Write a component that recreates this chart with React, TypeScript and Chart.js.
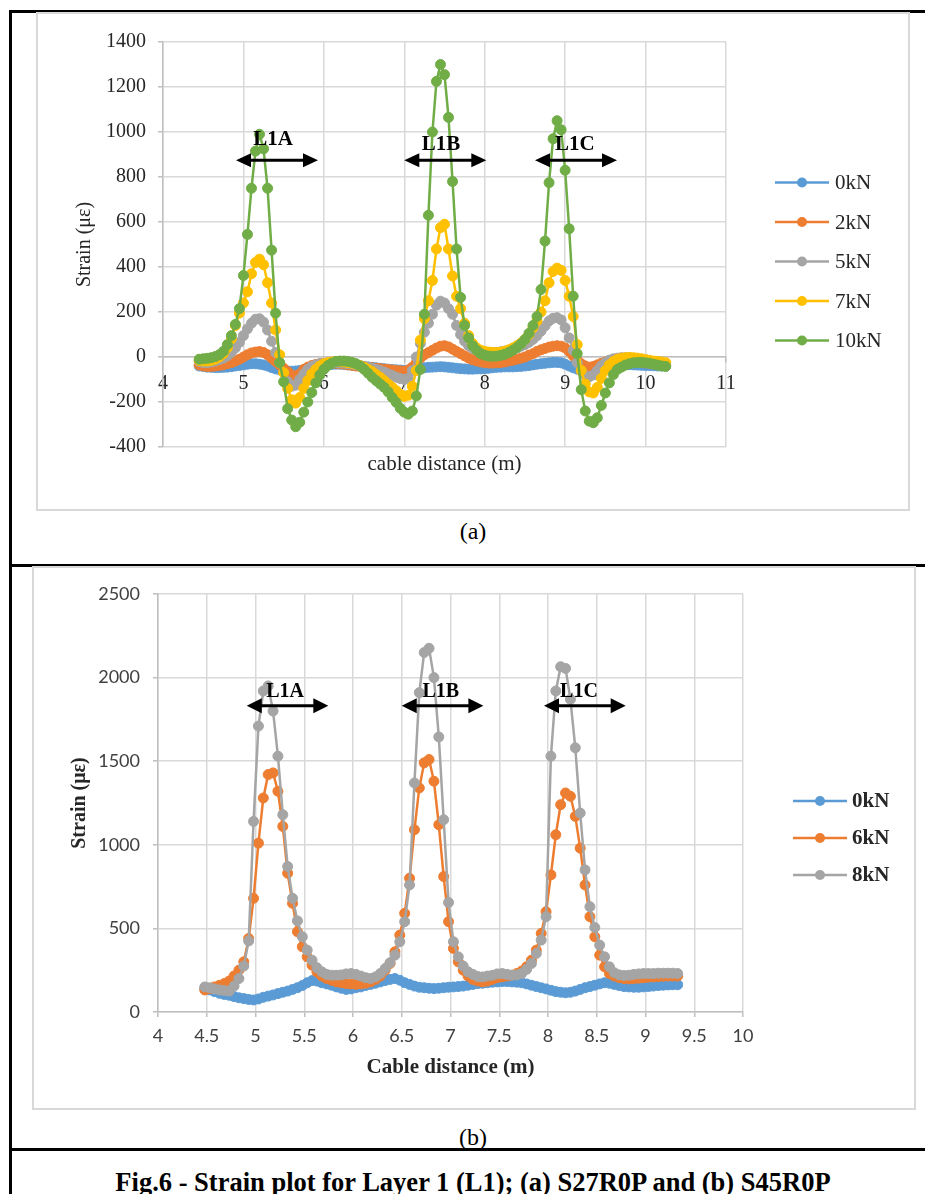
import React, { useEffect, useRef } from 'react';
import { Chart, registerables } from 'chart.js';

Chart.register(...registerables);

// ---------------- Panel (a): S27R0P ----------------
const X_A = [
  4.45, 4.5, 4.55, 4.6, 4.65, 4.7, 4.75, 4.8, 4.85, 4.9,
  4.95, 5, 5.05, 5.1, 5.15, 5.2, 5.25, 5.3, 5.35, 5.4,
  5.45, 5.5, 5.55, 5.6, 5.65, 5.7, 5.75, 5.8, 5.85, 5.9,
  5.95, 6, 6.05, 6.1, 6.15, 6.2, 6.25, 6.3, 6.35, 6.4,
  6.45, 6.5, 6.55, 6.6, 6.65, 6.7, 6.75, 6.8, 6.85, 6.9,
  6.95, 7, 7.05, 7.1, 7.15, 7.2, 7.25, 7.3, 7.35, 7.4,
  7.45, 7.5, 7.55, 7.6, 7.65, 7.7, 7.75, 7.8, 7.85, 7.9,
  7.95, 8, 8.05, 8.1, 8.15, 8.2, 8.25, 8.3, 8.35, 8.4,
  8.45, 8.5, 8.55, 8.6, 8.65, 8.7, 8.75, 8.8, 8.85, 8.9,
  8.95, 9, 9.05, 9.1, 9.15, 9.2, 9.25, 9.3, 9.35, 9.4,
  9.45, 9.5, 9.55, 9.6, 9.65, 9.7, 9.75, 9.8, 9.85, 9.9,
  9.95, 10, 10.05, 10.1, 10.15, 10.2, 10.25,
];

const A_0KN = [
  -40, -42, -45, -46, -47, -47, -46, -45, -43, -40,
  -38, -35, -32, -30, -30, -32, -35, -40, -47, -53,
  -57, -60, -62, -63, -62, -60, -57, -53, -50, -46,
  -42, -38, -35, -33, -32, -32, -33, -35, -37, -38,
  -40, -42, -44, -46, -48, -50, -52, -54, -56, -57,
  -58, -60, -58, -55, -52, -50, -48, -46, -45, -44,
  -43, -44, -46, -48, -50, -52, -53, -54, -54, -53,
  -53, -52, -50, -48, -46, -45, -44, -44, -44, -43,
  -42, -40, -38, -35, -32, -30, -28, -26, -24, -24,
  -26, -32, -40, -48, -54, -56, -55, -52, -48, -44,
  -40, -37, -35, -34, -33, -33, -33, -34, -35, -36,
  -37, -38, -38, -39, -40, -40, -40,
];

const A_2KN = [
  -35, -40, -42, -42, -40, -38, -35, -30, -25, -18,
  -10, 0, 10, 18, 22, 24, 20, 10, -5, -20,
  -35, -50, -65, -80, -85, -75, -55, -45, -38, -33,
  -30, -28, -27, -27, -28, -30, -32, -35, -37, -40,
  -42, -44, -46, -48, -50, -52, -54, -56, -58, -60,
  -62, -63, -58, -45, -25, -5, 10, 20, 30, 40,
  48, 50, 45, 35, 25, 15, 5, -5, -12, -18,
  -22, -25, -27, -27, -26, -25, -22, -18, -14, -10,
  -5, 0, 8, 15, 25, 32, 38, 44, 48, 50,
  48, 40, 25, 5, -15, -30, -40, -45, -42, -35,
  -28, -22, -18, -16, -15, -15, -16, -18, -20, -22,
  -24, -26, -28, -30, -32, -34, -35,
];

const A_5KN = [
  -20, -25, -25, -22, -18, -12, -5, 5, 20, 40,
  65, 95, 125, 150, 168, 170, 155, 120, 70, 20,
  -25, -70, -110, -130, -125, -100, -75, -55, -42, -35,
  -30, -28, -26, -25, -25, -26, -28, -30, -32, -35,
  -38, -42, -46, -50, -55, -60, -67, -75, -82, -90,
  -96, -100, -95, -60, 0, 60, 110, 150, 190, 230,
  248, 240, 215, 190, 140, 100, 70, 50, 38, 30,
  25, 22, 20, 20, 21, 23, 26, 30, 35, 40,
  48, 55, 65, 78, 95, 115, 138, 160, 172, 175,
  165, 130, 85, 30, -25, -62, -82, -88, -80, -60,
  -40, -25, -14, -8, -5, -3, -3, -4, -6, -8,
  -10, -13, -16, -20, -24, -28, -30,
];

const A_7KN = [
  -15, -18, -18, -15, -10, 0, 15, 40, 80, 140,
  195, 240, 290, 370, 420, 435, 410, 330, 240, 120,
  10, -70, -140, -190, -205, -180, -140, -105, -75, -55,
  -40, -30, -25, -22, -20, -20, -22, -25, -28, -32,
  -38, -45, -55, -65, -78, -90, -105, -120, -135, -150,
  -165, -175, -170, -130, -60, 75, 170, 250, 340, 480,
  575, 590, 480, 360, 270, 215, 150, 95, 60, 40,
  30, 25, 22, 20, 20, 22, 26, 32, 40, 50,
  62, 78, 100, 130, 160, 200, 250, 330, 380, 395,
  385, 340, 270, 180, 55, -60, -120, -155, -160, -135,
  -95, -60, -35, -20, -10, -5, -3, -2, -3, -5,
  -8, -12, -15, -18, -20, -22, -25,
];

const A_10KN = [
  -10, -8, -6, -3, 2, 10, 25, 55, 95, 145,
  215, 362, 545, 750, 915, 990, 925, 750, 475, 195,
  -25, -110, -230, -280, -310, -290, -245, -200, -158, -115,
  -80, -55, -38, -28, -20, -18, -18, -20, -24, -30,
  -40, -55, -72, -90, -105, -120, -135, -155, -180, -202,
  -228, -245, -254, -240, -173, -55, 190, 630, 1000, 1225,
  1300, 1255, 1065, 780, 480, 265, 140, 85, 50, 30,
  15, 8, 4, 3, 4, 7, 12, 20, 30, 42,
  58, 78, 105, 140, 180, 300, 515, 775, 970, 1050,
  1010, 830, 570, 270, 15, -145, -240, -285, -292, -270,
  -215, -160, -115, -78, -55, -45, -36, -30, -26, -24,
  -24, -26, -28, -32, -36, -40, -42,
];

const LABELS_A = ['0kN', '2kN', '5kN', '7kN', '10kN'];
const X_TICKS_A = [4, 5, 6, 7, 8, 9, 10, 11];
const Y_TICKS_A = [-400, -200, 0, 200, 400, 600, 800, 1000, 1200, 1400];

// zone arrows (data coordinates)
const ZONES = ['L1A', 'L1B', 'L1C'];
const ZONE_FROM_A = [4.908, 7.0, 8.625];
const ZONE_TO_A = [5.927, 8.02, 9.645];
const ZONE_LEVEL_A = 874;
const ZONE_TEXT_X_A = [5.368, 7.457, 9.12];
const ZONE_TEXT_Y_A = [965, 945, 945];

// ---------------- Panel (b): S45R0P ----------------
const X_B = [
  4.48, 4.53, 4.58, 4.63, 4.68, 4.73, 4.78, 4.83, 4.88, 4.93,
  4.98, 5.03, 5.08, 5.13, 5.18, 5.23, 5.28, 5.33, 5.38, 5.43,
  5.48, 5.53, 5.58, 5.63, 5.68, 5.73, 5.78, 5.83, 5.88, 5.93,
  5.98, 6.03, 6.08, 6.13, 6.18, 6.23, 6.28, 6.33, 6.38, 6.43,
  6.48, 6.53, 6.58, 6.63, 6.68, 6.73, 6.78, 6.83, 6.88, 6.93,
  6.98, 7.03, 7.08, 7.13, 7.18, 7.23, 7.28, 7.33, 7.38, 7.43,
  7.48, 7.53, 7.58, 7.63, 7.68, 7.73, 7.78, 7.83, 7.88, 7.93,
  7.98, 8.03, 8.08, 8.13, 8.18, 8.23, 8.28, 8.33, 8.38, 8.43,
  8.48, 8.53, 8.58, 8.63, 8.68, 8.73, 8.78, 8.83, 8.88, 8.93,
  8.98, 9.03, 9.08, 9.13, 9.18, 9.23, 9.28, 9.33,
];

const B_0KN = [
  140, 132, 122, 112, 105, 100, 92, 85, 80, 75,
  72, 78, 88, 95, 102, 110, 118, 125, 135, 145,
  158, 175, 188, 185, 175, 168, 160, 150, 142, 135,
  138, 145, 150, 158, 165, 172, 180, 188, 195, 200,
  190, 175, 165, 155, 148, 145, 142, 140, 142, 145,
  148, 150, 152, 155, 160, 165, 170, 172, 175, 178,
  180, 182, 182, 180, 178, 175, 168, 160, 152, 145,
  138, 130, 122, 118, 115, 118, 125, 135, 145, 152,
  160, 168, 175, 172, 165, 158, 152, 150, 148, 148,
  150, 152, 155, 158, 160, 162, 163, 163,
];

const B_6KN = [
  132, 140, 150, 160, 170, 185, 215, 250, 300, 440,
  680, 1010, 1280, 1420, 1430, 1320, 1110, 830, 650, 480,
  390, 330, 280, 240, 215, 200, 190, 180, 175, 170,
  168, 166, 168, 172, 180, 195, 215, 250, 290, 360,
  460, 590, 800, 1090, 1340, 1490, 1510, 1380, 1120, 810,
  540, 380, 300, 250, 215, 195, 185, 180, 185, 195,
  205, 210, 215, 220, 230, 245, 270, 310, 370, 470,
  600, 820, 1060, 1240, 1310, 1290, 1170, 980, 760, 570,
  450, 340, 270, 230, 215, 205, 200, 198, 200, 202,
  205, 208, 210, 212, 214, 215, 215, 215,
];

const B_8KN = [
  150, 145, 138, 132, 128, 125, 155, 200, 275, 425,
  1140, 1710, 1920, 1950, 1800, 1530, 1180, 870, 680, 545,
  450, 370, 310, 265, 240, 225, 220, 220, 222, 228,
  230, 225, 215, 205, 200, 210, 230, 260, 295, 340,
  420, 540, 760, 1370, 1910, 2150, 2175, 2000, 1645, 1150,
  655, 420, 330, 275, 240, 225, 212, 210, 215, 220,
  228, 230, 225, 220, 222, 230, 255, 290, 350, 430,
  570, 1530, 1920, 2065, 2055, 1870, 1580, 1190, 850, 630,
  505, 400, 330, 270, 235, 222, 218, 220, 225, 228,
  230, 230, 230, 232, 232, 232, 232, 230,
];

const LABELS_B = ['0kN', '6kN', '8kN'];
const X_TICKS_B = [4, 4.5, 5, 5.5, 6, 6.5, 7, 7.5, 8, 8.5, 9, 9.5, 10];
const Y_TICKS_B = [0, 500, 1000, 1500, 2000, 2500];

const ZONE_FROM_B = [4.91, 6.5, 7.959];
const ZONE_TO_B = [5.747, 7.337, 8.797];
const ZONE_LEVEL_B = 1832;
const ZONE_TEXT_X_B = [5.303, 6.9, 8.318];
const ZONE_TEXT_Y_B = [1912, 1912, 1912];

const COLORS_A = ['#5B9BD5', '#ED7D31', '#A5A5A5', '#FFC000', '#70AD47'];
const COLORS_B = ['#5B9BD5', '#ED7D31', '#A5A5A5'];

const SERIF = "'Liberation Serif', 'Times New Roman', serif";
const SANS = "Lato, 'Liberation Sans', sans-serif";

// ---------------- plugins ----------------
function zonePlugin(cfg: any) {
  return {
    id: 'zones',
    afterDatasetsDraw(chart: any) {
      const { ctx, scales } = chart;
      const xs = scales.x;
      const ys = scales.y;
      cfg.labels.forEach((lab: string, i: number) => {
        const x1 = xs.getPixelForValue(cfg.from[i]);
        const x2 = xs.getPixelForValue(cfg.to[i]);
        const y = ys.getPixelForValue(cfg.level);
        const hl = cfg.headLen;
        const hw = cfg.headHalf;
        ctx.save();
        ctx.strokeStyle = '#000';
        ctx.fillStyle = '#000';
        ctx.lineWidth = 3;
        ctx.beginPath();
        ctx.moveTo(x1 + hl - 1, y);
        ctx.lineTo(x2 - hl + 1, y);
        ctx.stroke();
        ctx.beginPath();
        ctx.moveTo(x1, y);
        ctx.lineTo(x1 + hl, y - hw);
        ctx.lineTo(x1 + hl, y + hw);
        ctx.closePath();
        ctx.fill();
        ctx.beginPath();
        ctx.moveTo(x2, y);
        ctx.lineTo(x2 - hl, y - hw);
        ctx.lineTo(x2 - hl, y + hw);
        ctx.closePath();
        ctx.fill();
        ctx.font = cfg.font;
        ctx.textAlign = 'center';
        ctx.textBaseline = 'middle';
        ctx.fillText(lab, xs.getPixelForValue(cfg.textX[i]), ys.getPixelForValue(cfg.textY[i]));
        ctx.restore();
      });
    },
  };
}

function sideLegendPlugin(cfg: any) {
  return {
    id: 'sideLegend',
    afterDraw(chart: any) {
      const { ctx, chartArea } = chart;
      const ds = chart.data.datasets;
      const n = ds.length;
      const cy = chart.height / 2;
      const x0 = chartArea.right + cfg.offset;
      ds.forEach((d: any, i: number) => {
        const y = cy + (i - (n - 1) / 2) * cfg.spacing;
        ctx.save();
        ctx.strokeStyle = d.borderColor;
        ctx.lineWidth = 2.5;
        ctx.beginPath();
        ctx.moveTo(x0, y);
        ctx.lineTo(x0 + cfg.lineLen, y);
        ctx.stroke();
        ctx.fillStyle = d.borderColor;
        ctx.beginPath();
        ctx.arc(x0 + cfg.lineLen / 2, y, 5, 0, Math.PI * 2);
        ctx.fill();
        ctx.font = cfg.font;
        ctx.fillStyle = cfg.color;
        ctx.textAlign = 'left';
        ctx.textBaseline = 'middle';
        ctx.fillText(d.label, x0 + cfg.lineLen + cfg.gap, y + 1);
        ctx.restore();
      });
    },
  };
}

function makeDatasets(xs: number[], series: number[][], labels: string[], colors: string[]) {
  return series.map((vals, i) => ({
    label: labels[i],
    data: xs.map((x, k) => ({ x, y: vals[k] })),
    borderColor: colors[i],
    backgroundColor: colors[i],
    pointBackgroundColor: colors[i],
    pointBorderColor: colors[i],
    borderWidth: 2.5,
    pointRadius: 5,
    pointBorderWidth: 1,
    tension: 0,
    order: series.length - 1 - i,
    xAxisID: 'x',
    yAxisID: 'y',
  }));
}

const fmt = (v: any) => String(v);

function configA(): any {
  return {
    type: 'line',
    data: {
      datasets: makeDatasets(X_A, [A_0KN, A_2KN, A_5KN, A_7KN, A_10KN], LABELS_A, COLORS_A),
    },
    options: {
      responsive: false,
      animation: false,
      layout: { padding: { left: 0, top: 28, right: 182, bottom: 32 } },
      plugins: { legend: { display: false }, tooltip: { enabled: false } },
      scales: {
        x: {
          type: 'linear',
          min: 4,
          max: 11,
          position: { y: 0 },
          afterBuildTicks: (s: any) => { s.ticks = X_TICKS_A.map((v) => ({ value: v })); },
          afterFit: (s: any) => { s.height = 0; },
          ticks: { callback: fmt, font: { family: SERIF, size: 20 }, color: '#262626', padding: 10, maxRotation: 0, autoSkip: false },
          grid: { color: '#d9d9d9', lineWidth: 1.5, tickLength: 5, tickColor: '#bfbfbf' },
          border: { color: '#bfbfbf', width: 1.5 },
        },
        xt: {
          type: 'linear',
          min: 4,
          max: 11,
          position: 'bottom',
          ticks: { display: false },
          grid: { display: false, drawTicks: false },
          border: { display: false },
          afterFit: (s: any) => { s.height = 30; },
          title: { display: true, text: 'cable distance (m)', font: { family: SERIF, size: 21 }, color: '#262626', padding: 0 },
        },
        y: {
          type: 'linear',
          min: -400,
          max: 1400,
          position: 'left',
          afterBuildTicks: (s: any) => { s.ticks = Y_TICKS_A.map((v) => ({ value: v })); },
          afterFit: (s: any) => { s.width = 125; },
          ticks: { callback: fmt, font: { family: SERIF, size: 20 }, color: '#262626', padding: 12 },
          grid: { color: '#d9d9d9', lineWidth: 1.5, tickLength: 5, tickColor: '#bfbfbf' },
          border: { color: '#bfbfbf', width: 1.5 },
          title: { display: true, text: 'Strain (με)', font: { family: SERIF, size: 20 }, color: '#262626', padding: { top: 35, bottom: 0 } },
        },
      },
    },
    plugins: [
      zonePlugin({
        labels: ZONES, from: ZONE_FROM_A, to: ZONE_TO_A, level: ZONE_LEVEL_A,
        textX: ZONE_TEXT_X_A, textY: ZONE_TEXT_Y_A, headLen: 15, headHalf: 7,
        font: `bold 21px ${SERIF}`,
      }),
      sideLegendPlugin({ offset: 49, lineLen: 54, gap: 6, spacing: 39.5, font: `21px ${SERIF}`, color: '#262626' }),
    ],
  };
}

function configB(): any {
  return {
    type: 'line',
    data: {
      datasets: makeDatasets(X_B, [B_0KN, B_6KN, B_8KN], LABELS_B, COLORS_B),
    },
    options: {
      responsive: false,
      animation: false,
      layout: { padding: { left: 0, top: 26, right: 171, bottom: 26 } },
      plugins: { legend: { display: false }, tooltip: { enabled: false } },
      scales: {
        x: {
          type: 'linear',
          min: 4,
          max: 10,
          position: 'bottom',
          afterBuildTicks: (s: any) => { s.ticks = X_TICKS_B.map((v) => ({ value: v })); },
          afterFit: (s: any) => { s.height = 70; },
          ticks: { callback: fmt, font: { family: SANS, size: 18 }, color: '#404040', padding: 8, maxRotation: 0, autoSkip: false },
          grid: { color: '#d9d9d9', lineWidth: 1.5, tickLength: 5, tickColor: '#bfbfbf' },
          border: { color: '#bfbfbf', width: 1.5 },
          title: { display: true, text: 'Cable distance (m)', font: { family: SERIF, size: 21, weight: 'bold' }, color: '#262626', padding: { top: 0, bottom: 1.4 } },
        },
        y: {
          type: 'linear',
          min: 0,
          max: 2500,
          position: 'left',
          afterBuildTicks: (s: any) => { s.ticks = Y_TICKS_B.map((v) => ({ value: v })); },
          afterFit: (s: any) => { s.width = 124; },
          ticks: { callback: fmt, font: { family: SANS, size: 18 }, color: '#404040', padding: 13 },
          grid: { color: '#d9d9d9', lineWidth: 1.5, tickLength: 5, tickColor: '#bfbfbf' },
          border: { color: '#bfbfbf', width: 1.5 },
          title: { display: true, text: 'Strain (με)', font: { family: SERIF, size: 20, weight: 'bold' }, color: '#262626', padding: { top: 34, bottom: 0 } },
        },
      },
    },
    plugins: [
      zonePlugin({
        labels: ZONES, from: ZONE_FROM_B, to: ZONE_TO_B, level: ZONE_LEVEL_B,
        textX: ZONE_TEXT_X_B, textY: ZONE_TEXT_Y_B, headLen: 15, headHalf: 7.5,
        font: `bold 20px ${SERIF}`,
      }),
      sideLegendPlugin({ offset: 50, lineLen: 54, gap: 5, spacing: 37, font: `bold 21px ${SERIF}`, color: '#262626' }),
    ],
  };
}

function ChartBox(props: { left: number; top: number; width: number; height: number; make: () => any }) {
  const ref = useRef<HTMLCanvasElement | null>(null);
  useEffect(() => {
    const chart = new Chart(ref.current as HTMLCanvasElement, props.make());
    return () => chart.destroy();
  }, []);
  return (
    <canvas
      ref={ref}
      width={props.width}
      height={props.height}
      style={{ position: 'absolute', left: props.left, top: props.top, width: props.width, height: props.height }}
    />
  );
}

const line = (left: number, top: number, width: number, height: number): React.CSSProperties => ({
  position: 'absolute', left, top, width, height, background: '#000',
});

const frame = (left: number, top: number, width: number, height: number): React.CSSProperties => ({
  position: 'absolute', left, top, width, height, border: '2px solid #d9d9d9', boxSizing: 'border-box',
});

export default function App() {
  return (
    <div style={{ position: 'absolute', left: 0, top: 0, width: 925, height: 1194, overflow: 'hidden', background: '#fff', fontFamily: SERIF }}>
      {/* table borders */}
      <div style={line(9, 10, 940, 2.5)} />
      <div style={line(9, 10, 2.5, 1200)} />
      <div style={line(9, 564, 940, 2.5)} />
      <div style={line(9, 1148, 940, 2.5)} />

      {/* panel (a) */}
      <div style={frame(36, 12, 874, 499)} />
      <ChartBox left={38} top={14} width={870} height={495} make={configA} />
      <div style={{ position: 'absolute', left: 10, width: 926, top: 516, lineHeight: '30px', fontSize: 24, textAlign: 'center', color: '#000' }}>(a)</div>

      {/* panel (b) */}
      <div style={frame(32, 566, 884, 544)} />
      <ChartBox left={34} top={568} width={880} height={540} make={configB} />
      <div style={{ position: 'absolute', left: 10, width: 926, top: 1122, lineHeight: '30px', fontSize: 24, textAlign: 'center', color: '#000' }}>(b)</div>

      {/* figure caption */}
      <div style={{ position: 'absolute', left: 10, width: 926, top: 1166, lineHeight: '32px', fontSize: 26.5, fontWeight: 'bold', textAlign: 'center', color: '#000' }}>
        Fig.6 - Strain plot for Layer 1 (L1); (a) S27R0P and (b) S45R0P
      </div>
    </div>
  );
}
